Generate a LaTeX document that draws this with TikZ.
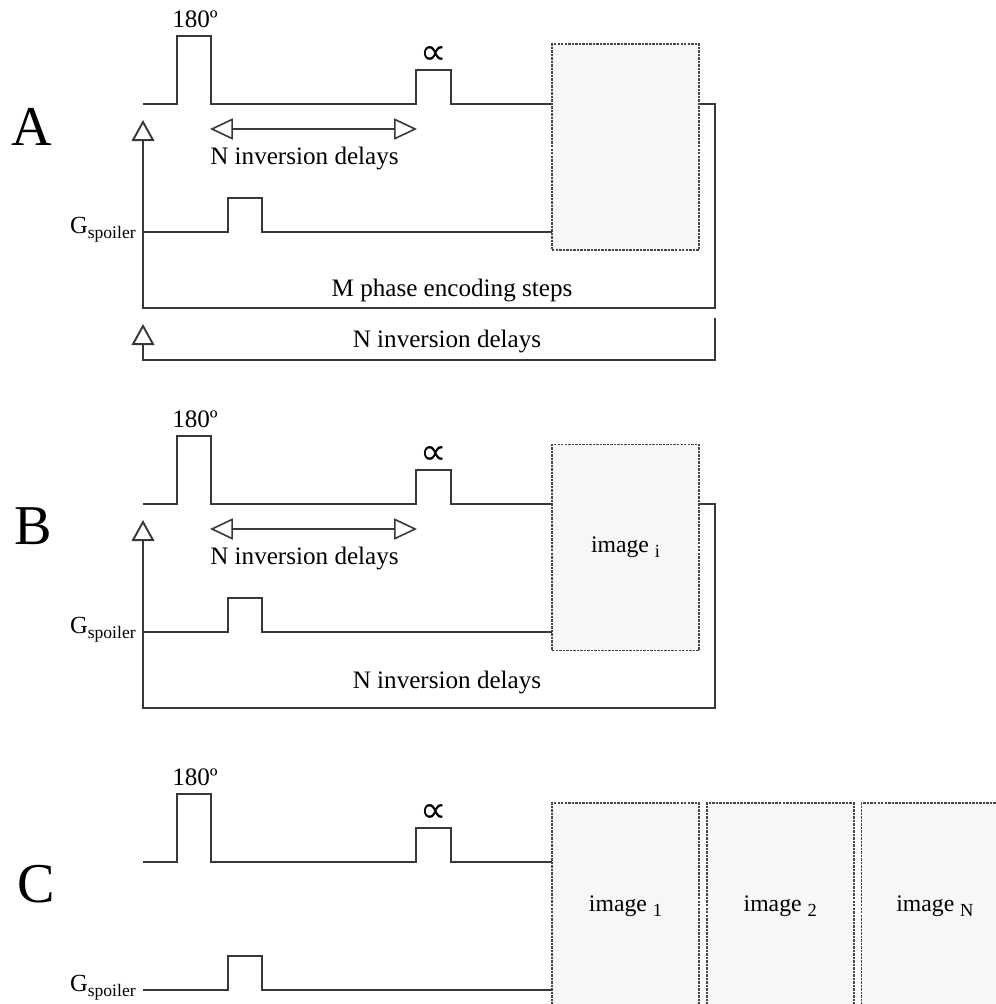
\documentclass[tikz,border=0pt]{standalone}
\usepackage{fontspec}
\setmainfont{Liberation Serif}
\newfontfamily\symfam{DejaVu Sans}
\usetikzlibrary{arrows.meta,positioning}
\newcommand{\subidx}[1]{\raisebox{-2.8pt}{\fontsize{10.5}{11}\selectfont #1}}
\newcommand{\gsub}[1]{\raisebox{-3.2pt}{\fontsize{10}{11}\selectfont #1}}
\tikzset{
  wave/.style={line width=1.1pt, draw=black!78},
  loopline/.style={line width=1.1pt, draw=black!78},
  upopen/.style={-{Triangle[open, length=12pt, width=13pt]}},
  delay/.style={line width=0.9pt, draw=black!78,
    {Triangle[open, length=13pt, width=12pt]}-{Triangle[open, length=13pt, width=12pt]}},
  acqbox/.style={draw=black!72, fill=black!3, dash pattern=on 1.4pt off 0.6pt, line width=1pt,
    minimum width=2.94cm, minimum height=4.12cm, inner sep=0pt,
    font=\fontsize{13.5}{15}\selectfont},
  lbl/.style={font=\fontsize{14.3}{16}\selectfont, inner sep=0pt},
  gsp/.style={font=\fontsize{14}{16}\selectfont, inner sep=0pt},
  panel/.style={font=\fontsize{32}{36}\selectfont, inner sep=0pt}
}
\begin{document}
\begin{tikzpicture}[x=0.02cm, y=-0.02cm]
  \useasboundingbox (0,0) rectangle (996,1004);
  \clip (0,0) rectangle (996,1004);

  % acquisition blocks
  \node[acqbox] (acqA) at (625.5,147) {};
  \node[acqbox] (acqB) at (625.5,547.5) {image \subidx{i}};
  \node[acqbox] (acqC1) at (625.5,906) {image \subidx{1}};
  \node[acqbox, right=0.12cm of acqC1] (acqC2) {image \subidx{2}};
  \node[acqbox, right=0.12cm of acqC2] (acqC3) {image \subidx{N}};

  % panel letters
  \node[panel, anchor=base] (lA) at (32,145) {A};
  \node[panel, anchor=base] (lB) at (33,544) {B};
  \node[panel, anchor=base] (lC) at (36,902) {C};

  % RF and spoiler lines, same in every panel
  \foreach \p/\o in {A/0, B/400, C/758} {
    \begin{scope}[shift={(0,\o)}]
      \draw[wave] (143,104) -- (177,104) -- (177,36) -- (211,36) -- (211,104)
        -- (416,104) -- (416,70) -- (451,70) -- (451,104) -- (552,104);
      \draw[wave] (143,232) -- (228,232) -- (228,198) -- (262,198) -- (262,232) -- (552,232);
      \node[lbl, anchor=base] (inv\p) at (195,27.5) {180º};
      \node[font=\symfam\fontsize{21}{22}\selectfont, inner sep=0pt] (alpha\p) at (434,56) {∝};
      \node[gsp, anchor=base east] (gspoil\p) at (136,233) {G\gsub{spoiler}};
    \end{scope}
  }

  % inversion delay arrows
  \foreach \p/\o in {A/0, B/400} {
    \begin{scope}[shift={(0,\o)}]
      \coordinate (dl\p) at (210,129);
      \coordinate (dr\p) at (417,129);
      \draw[delay] (dl\p) -- (dr\p);
      \node[lbl, anchor=base] (ninv\p) at (304.5,164) {N inversion delays};
    \end{scope}
  }

  % loops of A
  \coordinate (cA1) at (715,104); \coordinate (cA2) at (715,308);
  \coordinate (cA3) at (143,308); \coordinate (tipA) at (143,120);
  \draw[loopline, upopen] (acqA.east |- cA1) -- (cA1) -- (cA2) -- (cA3) -- (tipA);
  \node[lbl, anchor=base] (mphase) at (452,296) {M phase encoding steps};
  \coordinate (cA4) at (715,318); \coordinate (cA5) at (715,360);
  \coordinate (cA6) at (143,360); \coordinate (tipA2) at (143,324);
  \draw[loopline, upopen] (cA4) -- (cA5) -- (cA6) -- (tipA2);
  \node[lbl, anchor=base] (ninvloopA) at (447,347) {N inversion delays};

  % loop of B
  \coordinate (cB1) at (715,504); \coordinate (cB2) at (715,708);
  \coordinate (cB3) at (143,708); \coordinate (tipB) at (143,520);
  \draw[loopline, upopen] (acqB.east |- cB1) -- (cB1) -- (cB2) -- (cB3) -- (tipB);
  \node[lbl, anchor=base] (ninvloopB) at (447,688) {N inversion delays};
\end{tikzpicture}
\end{document}
